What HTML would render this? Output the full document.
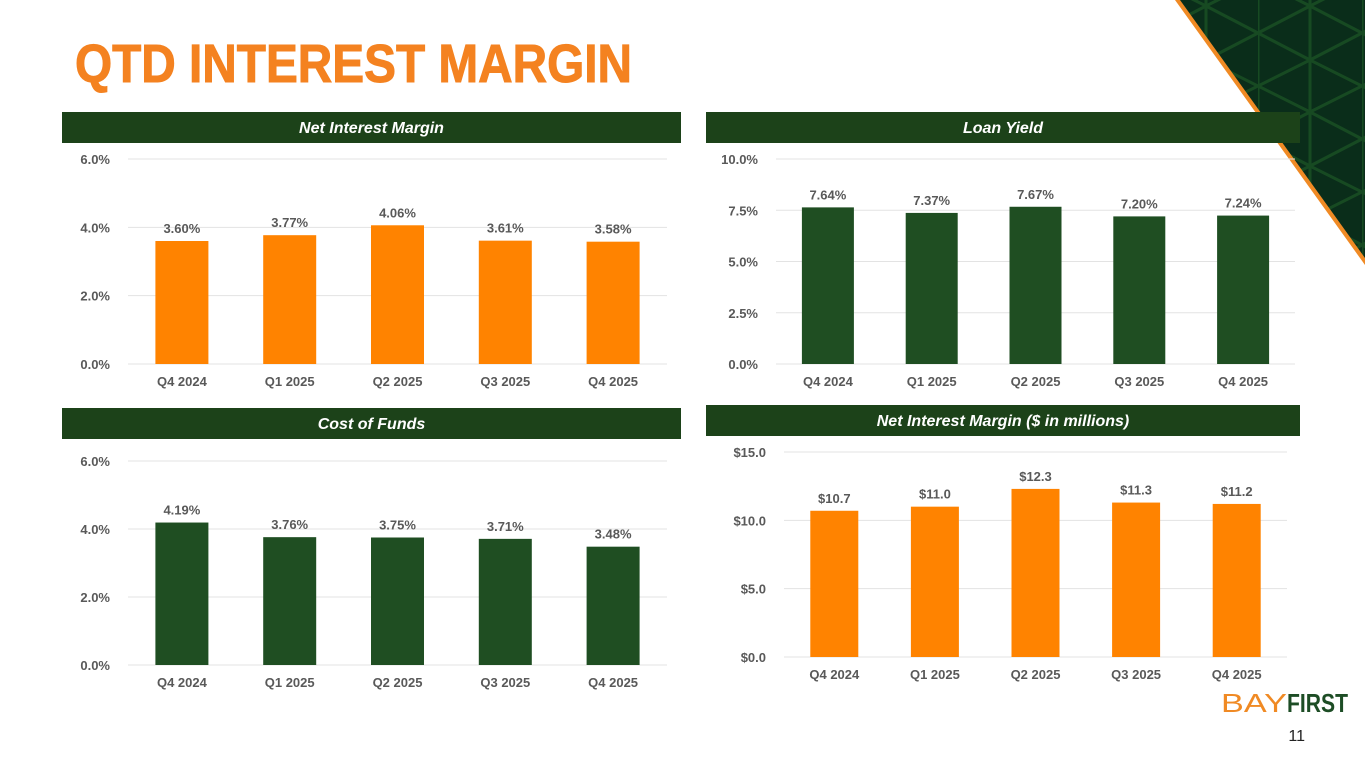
<!DOCTYPE html>
<html><head><meta charset="utf-8"><style>
html,body{margin:0;padding:0;background:#fff;}
svg{display:block;font-family:"Liberation Sans",sans-serif;}
</style></head><body>
<svg id="s" width="1365" height="768" viewBox="0 0 1365 768" xmlns="http://www.w3.org/2000/svg">
<defs>
<pattern id="tri" width="104" height="106" patternUnits="userSpaceOnUse" x="10" y="-20">
<rect width="104" height="106" fill="#0a2d1a"/>
<path d="M0 0L52 26L104 0M0 53L52 26L104 53M0 53L52 80L104 53M0 106L52 80L104 106M52 0V106M0 0V106" stroke="#174a22" stroke-width="3" fill="none"/>
</pattern>
</defs>
<polygon points="1175,0 1365,0 1365,265" fill="#f08a24"/>
<polygon points="1180,0 1365,0 1365,258" fill="url(#tri)"/>
<text x="75" y="82" font-size="54" font-weight="bold" fill="#f48220" stroke="#f48220" stroke-width="1" textLength="557" lengthAdjust="spacingAndGlyphs">QTD INTEREST MARGIN</text>
<g id="charts"></g>
<text x="1287" y="712" font-size="26" fill="#f08a24" textLength="66" lengthAdjust="spacingAndGlyphs" text-anchor="end">BAY</text>
<text x="1348" y="712" font-size="26" font-weight="bold" fill="#1d4d25" textLength="61" lengthAdjust="spacingAndGlyphs" text-anchor="end">FIRST</text>
<text x="1305" y="741" font-size="16" fill="#222" text-anchor="end">11</text>
</svg>
<script>
const categories=["Q4 2024","Q1 2025","Q2 2025","Q3 2025","Q4 2025"];
const nimValues=[3.60,3.77,4.06,3.61,3.58];
const loanYieldValues=[7.64,7.37,7.67,7.20,7.24];
const costOfFundsValues=[4.19,3.76,3.75,3.71,3.48];
const nimDollarValues=[10.7,11.0,12.3,11.3,11.2];
const pctTicks6=[0,2,4,6];
const pctTicks10=[0,2.5,5,7.5,10];
const dollarTicks=[0,5,10,15];

const NS="http://www.w3.org/2000/svg";
const root=document.getElementById('charts');
function mk(tag,attrs,parent){const e=document.createElementNS(NS,tag);for(const k in attrs)e.setAttribute(k,attrs[k]);(parent||root).appendChild(e);return e;}

function chart(cfg){
  const g=mk('g',{});
  
  
  const hb=mk('rect',{x:cfg.hx,y:cfg.hy,width:cfg.hw,height:31,fill:'#1c4219'},g);
  
  
  const ht=mk('text',{x:cfg.hx+cfg.hw/2,y:cfg.hy+21,'font-size':16,'font-weight':'bold','font-style':'italic',fill:'#fff','text-anchor':'middle'},g);
  ht.textContent=cfg.title;
  
  
  const max=cfg.ticks[cfg.ticks.length-1];
  const y=v=>cfg.y0-(v/max)*(cfg.y0-cfg.yTop);
  const step=(cfg.x1-cfg.x0)/categories.length;
  const xc=i=>cfg.x0+step*(i+0.5);
  cfg.ticks.forEach(t=>{
    const l=mk('line',{x1:cfg.x0,x2:cfg.x1,y1:y(t),y2:y(t),stroke:'#e3e3e3','stroke-width':1},g);
    
    
    const tl=mk('text',{x:cfg.x0-18,y:y(t)+5,'font-size':13,'font-weight':'bold',fill:'#595959','text-anchor':'end'},g);
    tl.textContent=cfg.fmtTick(t);
    
    
  });
  cfg.values.forEach((v,i)=>{
    const b=mk('rect',{x:xc(i)-cfg.bw/2,y:y(v),width:cfg.bw,height:cfg.y0-y(v),fill:cfg.color},g);
    
    
    const vl=mk('text',{x:xc(i),y:y(v)-8,'font-size':13,'font-weight':'bold',fill:'#595959','text-anchor':'middle'},g);
    vl.textContent=cfg.fmtVal(v);
    
    
    const xl=mk('text',{x:xc(i),y:cfg.y0+22,'font-size':13,'font-weight':'bold',fill:'#595959','text-anchor':'middle'},g);
    xl.textContent=categories[i];
    
    
  });
}
const pct1=t=>t.toFixed(1)+'%';
const pct2=v=>v.toFixed(2)+'%';
const dol=v=>'$'+v.toFixed(1);
chart({name:'net-interest-margin-chart',title:'Net Interest Margin',hx:62,hy:112,hw:619,x0:128,x1:667,y0:364,yTop:159,ticks:pctTicks6,values:nimValues,color:'#ff8300',bw:53,fmtTick:pct1,fmtVal:pct2});
chart({name:'loan-yield-chart',title:'Loan Yield',hx:706,hy:112,hw:594,x0:776,x1:1295,y0:364,yTop:159,ticks:pctTicks10,values:loanYieldValues,color:'#1f4e22',bw:52,fmtTick:pct1,fmtVal:pct2});
chart({name:'cost-of-funds-chart',title:'Cost of Funds',hx:62,hy:408,hw:619,x0:128,x1:667,y0:665,yTop:461,ticks:pctTicks6,values:costOfFundsValues,color:'#1f4e22',bw:53,fmtTick:pct1,fmtVal:pct2});
chart({name:'nim-dollars-chart',title:'Net Interest Margin ($ in millions)',hx:706,hy:405,hw:594,x0:784,x1:1287,y0:657,yTop:452,ticks:dollarTicks,values:nimDollarValues,color:'#ff8300',bw:48,fmtTick:dol,fmtVal:dol});
</script>
</body></html>
